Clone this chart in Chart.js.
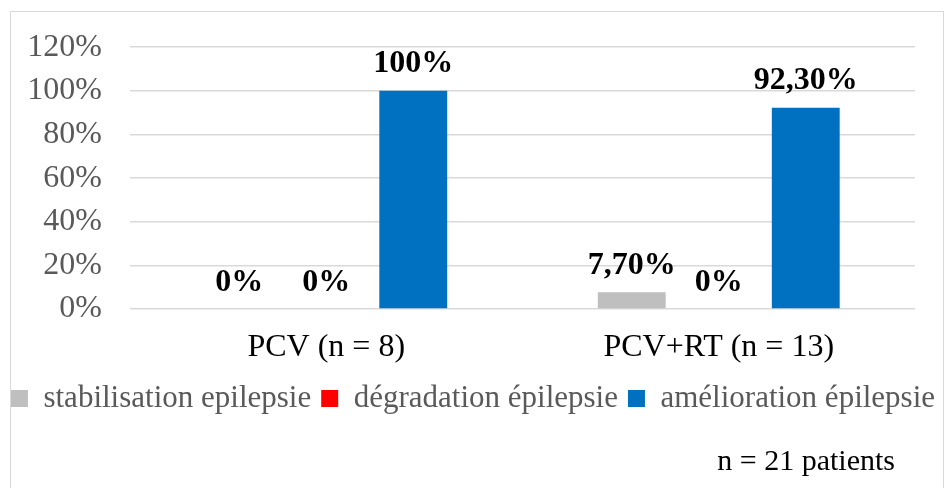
<!DOCTYPE html>
<html>
<head>
<meta charset="utf-8">
<script src="https://cdn.jsdelivr.net/npm/chart.js@4"></script>
<style>
  html, body { margin: 0; padding: 0; background: #fff; }
  #wrap { position: relative; width: 946px; height: 488px; overflow: hidden; }
  #frame { position: absolute; left: 10px; top: 11px; width: 934px; height: 500px; box-sizing: border-box; border: 1px solid #d9d9d9; pointer-events: none; }
  canvas { position: absolute; left: 0; top: 0; }
</style>
</head>
<body>
<div id="wrap">
  <canvas id="c" width="946" height="488"></canvas>
  <div id="frame"></div>
</div>
<script>
// ---- data ----
const categories = ['PCV (n = 8)', 'PCV+RT (n = 13)'];
const seriesNames = ['stabilisation epilepsie', 'dégradation épilepsie', 'amélioration épilepsie'];
const stabilisation = [0, 7.7];
const degradation = [0, 0];
const amelioration = [100, 92.3];
const stabilisationLabels = ['0%', '7,70%'];
const degradationLabels = ['0%', '0%'];
const ameliorationLabels = ['100%', '92,30%'];
const yMin = 0, yMax = 120, yStep = 20;
const note = 'n = 21 patients';

const SERIF = "'Liberation Serif', 'Times New Roman', serif";

const valueLabels = {
  id: 'valueLabels',
  afterDatasetsDraw(chart) {
    const ctx = chart.ctx;
    ctx.save();
    ctx.font = 'bold 32px ' + SERIF;
    ctx.fillStyle = '#000';
    ctx.textAlign = 'center';
    ctx.textBaseline = 'alphabetic';
    chart.data.datasets.forEach((ds, di) => {
      const meta = chart.getDatasetMeta(di);
      meta.data.forEach((bar, i) => {
        ctx.fillText(ds.valueLabels[i], bar.x, bar.y - 18.5);
      });
    });
    ctx.restore();
  }
};

const notePlugin = {
  id: 'notePlugin',
  afterDraw(chart) {
    const ctx = chart.ctx;
    ctx.save();
    ctx.font = '30px ' + SERIF;
    ctx.fillStyle = '#000';
    ctx.textAlign = 'right';
    ctx.textBaseline = 'alphabetic';
    ctx.fillText(note, chart.chartArea.right - 20, chart.height - 18);
    ctx.restore();
  }
};

new Chart(document.getElementById('c'), {
  type: 'bar',
  data: {
    labels: categories,
    datasets: [
      { label: seriesNames[0], data: stabilisation, valueLabels: stabilisationLabels, backgroundColor: '#bfbfbf', borderWidth: 0 },
      { label: seriesNames[1], data: degradation, valueLabels: degradationLabels, backgroundColor: '#ff0000', borderWidth: 0 },
      { label: seriesNames[2], data: amelioration, valueLabels: ameliorationLabels, backgroundColor: '#0070c0', borderWidth: 0 }
    ]
  },
  options: {
    responsive: false,
    animation: false,
    devicePixelRatio: 1,
    categoryPercentage: 0.665,
    barPercentage: 0.78,
    layout: { padding: { top: 42, left: 0, right: 0, bottom: 64 } },
    plugins: {
      legend: {
        position: 'bottom',
        labels: {
          font: { family: SERIF, size: 31 },
          color: '#595959',
          boxWidth: 17,
          boxHeight: 17,
          padding: 10
        }
      },
      title: { display: false },
      tooltip: { enabled: false }
    },
    scales: {
      x: {
        grid: { display: false },
        border: { display: false },
        ticks: { font: { family: SERIF, size: 32 }, color: '#000', padding: 11 },
        afterFit: s => { s.height = 64; }
      },
      y: {
        min: yMin, max: yMax,
        ticks: { stepSize: yStep, autoSkip: false, font: { family: SERIF, size: 32 }, color: '#595959', padding: 28,
                 callback: v => v + '%' },
        grid: { color: '#d9d9d9', lineWidth: 1.5, drawTicks: false },
        border: { display: false },
        afterFit: s => { s.width = 130; }
      },
      yRight: {
        position: 'right',
        display: true,
        grid: { display: false },
        border: { display: false },
        ticks: { display: false },
        afterFit: s => { s.width = 31; }
      }
    }
  },
  plugins: [valueLabels, notePlugin]
});
</script>
</body>
</html>
